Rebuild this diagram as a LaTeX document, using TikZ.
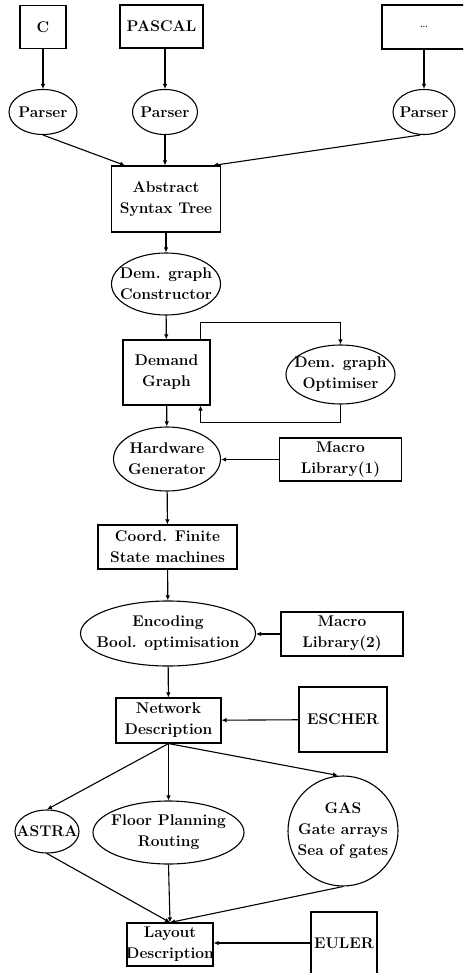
\documentclass[tikz,border=0pt]{standalone}
\usepackage{fontspec}
\usetikzlibrary{arrows.meta,shapes.geometric}
\tikzset{
  hsbox/.style={draw=black, rectangle, line width=1.1pt, align=center, inner sep=0pt,
    font=\fontsize{15.5}{21}\selectfont\bfseries},
  hsproc/.style={hsbox, ellipse, inner sep=-16pt},
  hsgas/.style={hsbox, circle, inner sep=-2pt},
  hsarrow/.style={-{Latex[length=5pt,width=4.5pt]}, line width=1.1pt, draw=black}
}

\begin{document}
\begin{tikzpicture}[x=1pt,y=-1pt]
  \clip (0,0) rectangle (463,973);
  % front ends
  \node[hsbox, minimum width=46, minimum height=43] (c) at (43,27) {C};
  \node[hsbox, minimum width=83, minimum height=43] (pascal) at (161.5,26.5) {PASCAL};
  \node[hsbox, minimum width=84, minimum height=44, font=\fontsize{15}{18}\selectfont] (other) at (424,27) {\dots};
  \node[hsproc, minimum width=68, minimum height=45] (parsc) at (43,112) {Parser};
  \node[hsproc, minimum width=65, minimum height=45] (parsp) at (165,112) {Parser};
  \node[hsproc, minimum width=62, minimum height=45] (parso) at (424,112) {Parser};
  \node[hsbox, minimum width=109, minimum height=66] (ast) at (166,199) {Abstract\\Syntax Tree};
  % demand graph stage
  \node[hsproc, minimum width=109, minimum height=62] (dgc) at (166,284) {Dem. graph\\Constructor};
  \node[hsbox, minimum width=87, minimum height=65] (dg) at (166.5,372.5) {Demand\\Graph};
  \node[hsproc, minimum width=109, minimum height=59] (dgo) at (340.5,374.5) {Dem. graph\\Optimiser};
  % hardware generation
  \node[hsproc, minimum width=107, minimum height=64] (hwg) at (167,459) {Hardware\\Generator};
  \node[hsbox, minimum width=122, minimum height=43] (mlib1) at (340.5,459.5) {Macro\\Library(1)};
  \node[hsbox, minimum width=139, minimum height=44] (cfsm) at (167.5,547) {Coord. Finite\\State machines};
  \node[hsproc, minimum width=175, minimum height=65] (enc) at (168,633.5) {Encoding\\Bool. optimisation};
  \node[hsbox, minimum width=122, minimum height=44] (mlib2) at (342,634) {Macro\\Library(2)};
  \node[hsbox, minimum width=105, minimum height=45] (net) at (168.5,720.5) {Network\\Description};
  \node[hsbox, minimum width=88, minimum height=65] (escher) at (343,719.5) {ESCHER};
  % layout back ends
  \node[hsproc, minimum width=64, minimum height=43] (astra) at (47,831.5) {ASTRA};
  \node[hsproc, minimum width=151, minimum height=63] (floor) at (168.5,832.5) {Floor Planning\\Routing};
  \node[hsgas, minimum size=110] (gas) at (343,831) {GAS\\Gate arrays\\Sea of gates};
  \node[hsbox, minimum width=86, minimum height=43, inner xsep=-2.5pt] (layout) at (170,944.5) {Layout\\Description};
  \node[hsbox, minimum width=66, minimum height=62] (euler) at (344,943) {EULER};

  \draw[hsarrow] (c) -- (parsc);
  \draw[hsarrow] (pascal.south -| parsp) -- (parsp);
  \draw[hsarrow] (other) -- (parso);
  \draw[hsarrow] (parsc.south) -- ([xshift=-41pt]ast.north);
  \draw[hsarrow] (parsp.south) -- (parsp.south |- ast.north);
  \draw[hsarrow] ([xshift=-4pt]parso.south) -- ([xshift=47pt]ast.north);
  \draw[hsarrow] (ast) -- (dgc);
  \draw[hsarrow] (dgc) -- (dg);
  \draw[hsarrow] ([xshift=34pt]dg.north) -- ++(0,-17) -| (dgo.north);
  \draw[hsarrow] (dgo.south) -- ++(0,18) -| ([xshift=34pt]dg.south);
  \draw[hsarrow] (dg) -- (hwg);
  \draw[hsarrow] (mlib1.west) -- (mlib1.west -| hwg.east);
  \draw[hsarrow] (hwg) -- (cfsm);
  \draw[hsarrow] (cfsm) -- (enc);
  \draw[hsarrow] (mlib2.west) -- (mlib2.west -| enc.east);
  \draw[hsarrow] (enc) -- (net);
  \draw[hsarrow] (escher) -- (net);
  \draw[hsarrow] (net.south) -- (astra.north);
  \draw[hsarrow] (net.south) -- (floor.north);
  \draw[hsarrow] (net.south) -- ([xshift=-5pt]gas.north);
  \draw[hsarrow] (astra.south) -- (layout.north);
  \draw[hsarrow] (floor.south) -- (layout.north);
  \draw[hsarrow] (gas.south) -- (layout.north);
  \draw[hsarrow] (euler.west) -- (euler.west -| layout.east);
\end{tikzpicture}
\end{document}
